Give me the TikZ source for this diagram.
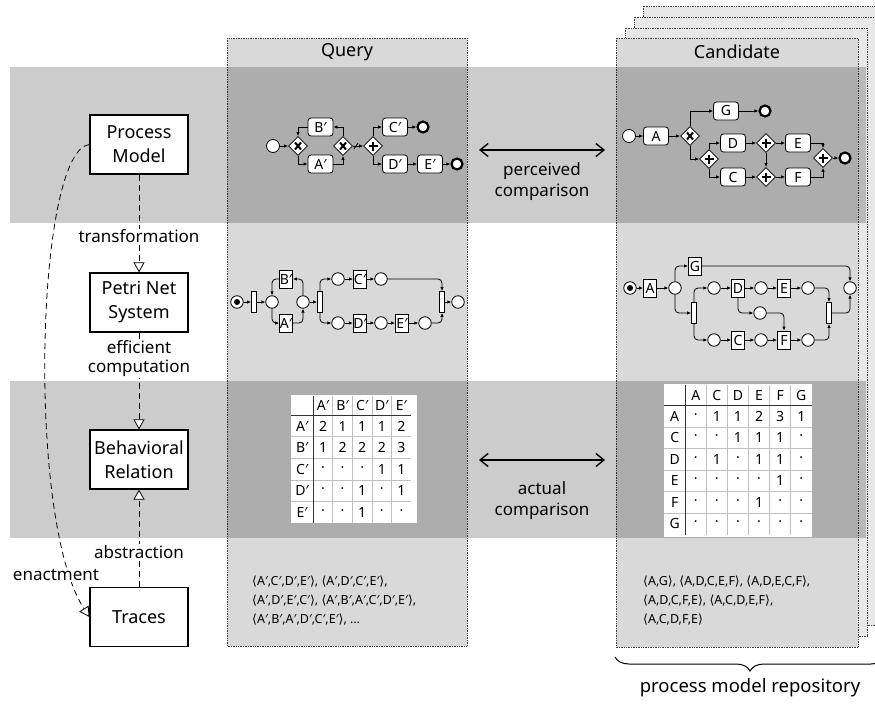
\documentclass[tikz,border=0pt]{standalone}
\usepackage{fontspec}
\setmainfont{Noto Sans}
\newfontfamily\symfont{DejaVu Sans}
\usetikzlibrary{arrows.meta,shapes.geometric,matrix,decorations.pathreplacing}

% trace brackets
\newcommand\trOpen{{\symfont ⟨}}
\newcommand\trClose{{\symfont ⟩}}
% font sizes
\newcommand\fMain{\fontsize{18}{24}\selectfont}
\newcommand\fLbl{\fontsize{17}{19}\selectfont}
\newcommand\fCmp{\fontsize{17}{21}\selectfont}
\newcommand\fTask{\fontsize{14}{16}\selectfont}
\newcommand\fTab{\fontsize{14}{16}\selectfont}
\newcommand\fTrace{\fontsize{12.5}{19}\selectfont}

\tikzset{
  concept/.style={draw, line width=1.2pt, fill=white, minimum width=98pt,
    minimum height=59pt, align=center, inner sep=0pt, font=\fMain},
  dep/.style={dash pattern=on 6pt off 4pt, line width=0.8pt,
    -{Triangle[length=10pt,width=11pt,fill=white]}},
  lbl/.style={fill=white, inner sep=1pt, font=\fLbl, align=center},
  panel/.style={draw=black!75, densely dotted, line width=0.7pt, fill=black!15},
  page/.style={panel, fill=black!9},
  band/.style={fill=black, opacity=0.2},
  task/.style={draw, line width=0.8pt, fill=white, rounded corners=3pt,
    minimum width=25pt, minimum height=18pt, inner sep=0pt, font=\fTask},
  gw/.style={diamond, draw, line width=0.8pt, fill=white, minimum width=19pt,
    minimum height=19pt, inner sep=0pt},
  xorgw/.style={gw, path picture={
    \draw[line width=2pt]
      ([shift={(-3pt,-3.5pt)}]path picture bounding box.center) --
      ([shift={(3pt,3.5pt)}]path picture bounding box.center)
      ([shift={(-3pt,3.5pt)}]path picture bounding box.center) --
      ([shift={(3pt,-3.5pt)}]path picture bounding box.center);}},
  andgw/.style={gw, path picture={
    \draw[line width=2.2pt]
      ([shift={(-4.5pt,0pt)}]path picture bounding box.center) --
      ([shift={(4.5pt,0pt)}]path picture bounding box.center)
      ([shift={(0pt,4.5pt)}]path picture bounding box.center) --
      ([shift={(0pt,-4.5pt)}]path picture bounding box.center);}},
  startev/.style={circle, draw, line width=0.8pt, fill=white, minimum size=13pt, inner sep=0pt},
  endev/.style={circle, draw, line width=2.2pt, fill=white, minimum size=11pt, inner sep=0pt},
  flow/.style={line width=0.8pt, -{Latex[length=4pt,width=3.5pt]}},
  arc/.style={flow, rounded corners=4pt},
  place/.style={circle, draw, line width=0.8pt, fill=white, minimum size=12.5pt, inner sep=0pt},
  trans/.style={draw, line width=0.8pt, fill=white, minimum width=13pt,
    minimum height=18pt, inner sep=0pt, font=\fTask},
  silent/.style={draw, line width=0.8pt, fill=white, minimum width=5pt,
    minimum height=21pt, inner sep=0pt},
  cmp/.style={line width=1.4pt,
    {Straight Barb[length=8pt,width=13pt]}-{Straight Barb[length=8pt,width=13pt]}},
  gridlight/.style={draw=black!25, line width=0.6pt},
  griddark/.style={draw=black!80, line width=1pt},
  reltab/.style={matrix of nodes, nodes in empty cells, anchor=north west,
    inner sep=0pt, column sep=0pt, row sep=0pt},
  trace/.style={font=\fTrace, align=left, anchor=north west, inner sep=0pt},
}

\begin{document}
\begin{tikzpicture}[x=1pt,y=-1pt]
\useasboundingbox (0,0) rectangle (875,704);

% repository pages behind the candidate
\draw[page] (643,6) rectangle (885,614);
\draw[page] (634,17) rectangle (876,625);
\draw[page] (625,28) rectangle (867,636);
\draw[panel] (616,38) rectangle (858,647);
% query panel
\draw[panel] (227,38) rectangle (467,646);

% horizontal bands
\fill[band] (10,67) rectangle (866,223);
\fill[band] (10,381) rectangle (866,538);

% panel titles
\node[font=\fMain] (qtitle) at (347,52) {Query};
\node[font=\fMain] (ctitle) at (737,52) {Candidate};

% ---------------- concept column ----------------
\node[concept] (pm) at (139,144.5) {Process\\Model};
\node[concept] (pn) at (139,302.5) {Petri Net\\System};
\node[concept] (br) at (139,459.5) {Behavioral\\Relation};
\node[concept] (tr) at (139,617) {Traces};

\draw[dep] (pm) -- node[lbl,pos=0.63] (ltrans) {transformation} (pn);
\draw[dep] (pn) -- node[lbl,pos=0.27] (leff) {efficient\\computation} (br);
\draw[dep] (tr) -- node[lbl,pos=0.36] (labs) {abstraction} (br);
\draw[dep] (pm.west) .. controls (36,150) and (26,520) .. (tr.west);
\node[lbl] (lenact) at (56,575) {enactment};

% ---------------- comparisons ----------------
\coordinate (pcl) at (479,150);
\coordinate (pcr) at (605,150);
\draw[cmp] (pcl) -- (pcr);
\node[font=\fCmp, align=center] (pct) at (542,181.5) {perceived\\comparison};
\coordinate (acl) at (479,460);
\coordinate (acr) at (605,460);
\draw[cmp] (acl) -- (acr);
\node[font=\fCmp, align=center] (act) at (542,501) {actual\\comparison};

% ---------------- query process model ----------------
\node[startev] (qs) at (273,146) {};
\node[xorgw] (qx1) at (298,146) {};
\node[task] (qB) at (320.5,127) {B′};
\node[task] (qA) at (320.5,164) {A′};
\node[xorgw] (qx2) at (343,146) {};
\node[andgw] (qg) at (373,146) {};
\node[task] (qC) at (395,127) {C′};
\node[endev] (qCe) at (423,127) {};
\node[task] (qD) at (395,164) {D′};
\node[task] (qE) at (430,164) {E′};
\node[endev] (qEe) at (457,164) {};

\draw[flow] (qs) -- (qx1);
\draw[flow] (qx1.south) |- (qA.west);
\draw[flow] (qA.east) -| (qx2.south);
\draw[flow] (qx2.north) |- (qB.east);
\draw[flow] (qB.west) -| (qx1.north);
\draw[flow] (qx2) -- coordinate[pos=0.3] (qdef) (qg);
\draw[line width=0.8pt] ([shift={(-2pt,-3pt)}]qdef) -- ([shift={(2pt,3pt)}]qdef);
\draw[flow] (qg.north) |- (qC.west);
\draw[flow] (qC) -- (qCe);
\draw[flow] (qg.south) |- (qD.west);
\draw[flow] (qD) -- (qE);
\draw[flow] (qE) -- (qEe);

% ---------------- candidate process model ----------------
\node[startev] (cs) at (629,136) {};
\node[task] (cA) at (656,136) {A};
\node[xorgw] (cx) at (690,136) {};
\node[task] (cG) at (726,111) {G};
\node[endev] (cGe) at (765,111) {};
\node[andgw] (ca1) at (709,159) {};
\node[task] (cD) at (733,143) {D};
\node[andgw] (ca2) at (766,143) {};
\node[task] (cE) at (798,143) {E};
\node[task] (cC) at (733,177) {C};
\node[andgw] (ca3) at (766,177) {};
\node[task] (cF) at (798,177) {F};
\node[andgw] (ca4) at (823,158) {};
\node[endev] (cEe) at (845,158) {};

\draw[flow] (cs) -- (cA);
\draw[flow] (cA) -- (cx);
\draw[flow] (cx.north) |- (cG.west);
\draw[flow] (cG) -- (cGe);
\draw[flow] (cx.south) |- (ca1.west);
\draw[flow] (ca1.north) |- (cD.west);
\draw[flow] (ca1.south) |- (cC.west);
\draw[flow] (cD) -- (ca2);
\draw[flow] (ca2) -- (cE);
\draw[flow] (cC) -- (ca3);
\draw[flow] (ca3) -- (cF);
\draw[flow] (ca2) -- (ca3);
\draw[flow] (cE.east) -| (ca4.north);
\draw[flow] (cF.east) -| (ca4.south);
\draw[flow] (ca4) -- (cEe);

% ---------------- query Petri net ----------------
\node[place] (qp0) at (237,302) {};
\fill (qp0.center) circle (3pt);
\node[silent] (qt0) at (254,302) {};
\node[place] (qp1) at (272,302) {};
\node[trans] (qtB) at (286,279) {B′};
\node[trans] (qtA) at (286,323) {A′};
\node[place] (qp2) at (303,302) {};
\node[silent] (qt1) at (320,302) {};
\node[place] (qp3) at (338,279) {};
\node[trans] (qtC) at (360,279) {C′};
\node[place] (qp4) at (381,279) {};
\node[place] (qp5) at (338,323) {};
\node[trans] (qtD) at (360,323) {D′};
\node[place] (qp6) at (381,323) {};
\node[trans] (qtE) at (402,323) {E′};
\node[place] (qp7) at (425,323) {};
\node[silent] (qt2) at (442,302) {};
\node[place] (qp8) at (458,302) {};

\draw[arc] (qp0) -- (qt0);
\draw[arc] (qt0) -- (qp1);
\draw[arc] (qp1.south) |- (qtA.west);
\draw[arc] (qtA.east) -| (qp2.south);
\draw[arc] (qp2.north) |- (qtB.east);
\draw[arc] (qtB.west) -| (qp1.north);
\draw[arc] (qp2) -- (qt1);
\draw[arc] (qt1.north) |- (qp3.west);
\draw[arc] (qp3) -- (qtC);
\draw[arc] (qtC) -- (qp4);
\draw[arc] (qp4.east) -| (qt2.north);
\draw[arc] (qt1.south) |- (qp5.west);
\draw[arc] (qp5) -- (qtD);
\draw[arc] (qtD) -- (qp6);
\draw[arc] (qp6) -- (qtE);
\draw[arc] (qtE) -- (qp7);
\draw[arc] (qp7.east) -| (qt2.south);
\draw[arc] (qt2) -- (qp8);

% ---------------- candidate Petri net ----------------
\node[place] (cp0) at (630,288) {};
\fill (cp0.center) circle (3pt);
\node[trans] (ctA) at (650,288) {A};
\node[place] (cpA) at (675,288) {};
\node[trans] (ctG) at (695,266) {G};
\node[silent] (ct1) at (694,313) {};
\node[place] (cp1) at (714,288) {};
\node[trans] (ctD) at (738,288) {D};
\node[place] (cp2) at (761,288) {};
\node[trans] (ctE) at (784,288) {E};
\node[place] (cp3) at (808,288) {};
\node[place] (cpm) at (760,313) {};
\node[place] (cp4) at (714,340) {};
\node[trans] (ctC) at (738,340) {C};
\node[place] (cp5) at (761,340) {};
\node[trans] (ctF) at (784,340) {F};
\node[place] (cp6) at (808,340) {};
\node[silent] (ct2) at (829,313) {};
\node[place] (cpE) at (850,288) {};

\draw[arc] (cp0) -- (ctA);
\draw[arc] (ctA) -- (cpA);
\draw[arc] (cpA.north) |- (ctG.west);
\draw[arc] (ctG.east) -| (cpE.north);
\draw[arc] (cpA.south) |- (ct1.west);
\draw[arc] (ct1.north) |- (cp1.west);
\draw[arc] (cp1) -- (ctD);
\draw[arc] (ctD) -- (cp2);
\draw[arc] (cp2) -- (ctE);
\draw[arc] (ctE) -- (cp3);
\draw[arc] (cp3.east) -| (ct2.north);
\draw[arc] (ctD.south) |- (cpm.west);
\draw[arc] (cpm.east) -| (ctF.north);
\draw[arc] (ct1.south) |- (cp4.west);
\draw[arc] (cp4) -- (ctC);
\draw[arc] (ctC) -- (cp5);
\draw[arc] (cp5) -- (ctF);
\draw[arc] (ctF) -- (cp6);
\draw[arc] (cp6.east) -| (ct2.south);
\draw[arc] (ct2.east) -| (cpE.south);

% ---------------- query behavioural relation ----------------
\fill[white] (291,395) rectangle (417,523);
\matrix (qm) [reltab,
  nodes={inner sep=0pt, minimum width=19.6pt, minimum height=21.6pt, font=\fTab, anchor=center},
  column 1/.style={nodes={minimum width=22pt}},
  row 1/.style={nodes={minimum height=19pt}}] at (291,396) {
     & A′ & B′ & C′ & D′ & E′ \\
  A′ & 2 & 1 & 1 & 1 & 2 \\
  B′ & 1 & 2 & 2 & 2 & 3 \\
  C′ & · & · & · & 1 & 1 \\
  D′ & · & · & 1 & · & 1 \\
  E′ & · & · & 1 & · & · \\
};
\foreach \c in {3,...,6} \draw[gridlight] (qm-1-\c.north west) -- (qm-6-\c.south west);
\foreach \r in {3,...,6} \draw[gridlight] (qm-\r-1.north west) -- (qm-\r-6.north east);
\draw[griddark] (qm-1-2.north west) -- (qm-6-2.south west);
\draw[griddark] (qm-2-1.north west) -- (qm-2-6.north east);

% ---------------- candidate behavioural relation ----------------
\fill[white] (664,384) rectangle (812,537);
\matrix (cm) [reltab,
  nodes={inner sep=0pt, minimum width=21.1pt, minimum height=21.5pt, font=\fTab, anchor=center},
  column 1/.style={nodes={minimum width=21pt}},
  row 1/.style={nodes={minimum height=20.3pt}}] at (664,385) {
    & A & C & D & E & F & G \\
  A & · & 1 & 1 & 2 & 3 & 1 \\
  C & · & · & 1 & 1 & 1 & · \\
  D & · & 1 & · & 1 & 1 & · \\
  E & · & · & · & · & 1 & · \\
  F & · & · & · & 1 & · & · \\
  G & · & · & · & · & · & · \\
};
\foreach \c in {3,...,7} \draw[gridlight] (cm-1-\c.north west) -- (cm-7-\c.south west);
\foreach \r in {3,...,7} \draw[gridlight] (cm-\r-1.north west) -- (cm-\r-7.north east);
\draw[griddark] (cm-1-2.north west) -- (cm-7-2.south west);
\draw[griddark] (cm-2-1.north west) -- (cm-2-7.north east);

% ---------------- traces ----------------
\node[trace] (qtr) at (252,576) {%
  \trOpen A′,C′,D′,E′\trClose, \trOpen A′,D′,C′,E′\trClose,\\
  \trOpen A′,D′,E′,C′\trClose, \trOpen A′,B′,A′,C′,D′,E′\trClose,\\
  \trOpen A′,B′,A′,D′,C′,E′\trClose, …};
\node[trace] (ctr) at (643,576) {%
  \trOpen A,G\trClose, \trOpen A,D,C,E,F\trClose, \trOpen A,D,E,C,F\trClose,\\
  \trOpen A,D,C,F,E\trClose, \trOpen A,C,D,E,F\trClose,\\
  \trOpen A,C,D,F,E\trClose};

% ---------------- repository brace ----------------
\coordinate (bl) at (615,657);
\coordinate (bre) at (885,657);
\draw[decorate, decoration={brace, amplitude=14pt, mirror}, line width=1pt] (bl) -- (bre);
\node[font=\fontsize{18.5}{22}\selectfont] (repo) at (750,688) {process model repository};
\end{tikzpicture}
\end{document}
